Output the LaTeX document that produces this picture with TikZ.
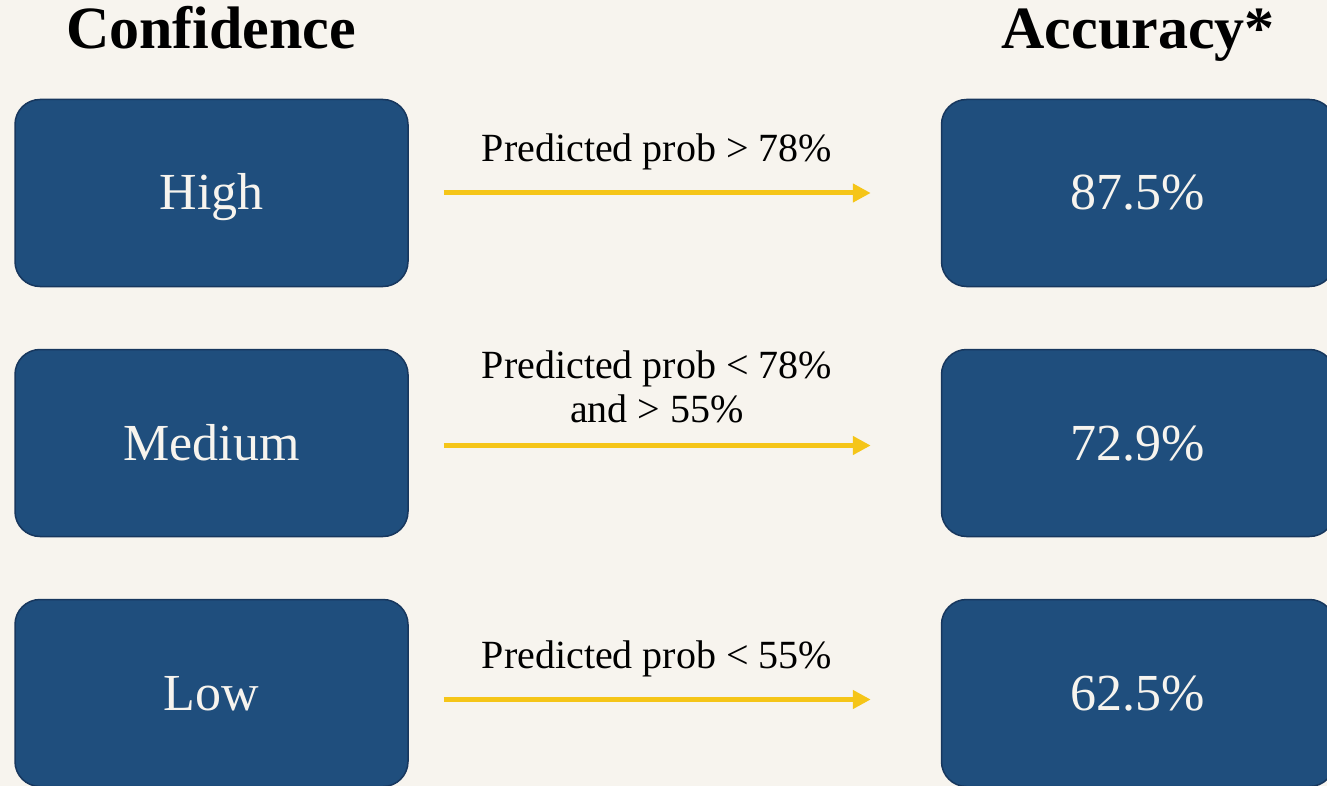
\documentclass[tikz,border=0pt]{standalone}
\usepackage{fontspec}
\setmainfont{Liberation Serif}
\usetikzlibrary{positioning, arrows.meta}

\definecolor{paper}{HTML}{F7F4EE}
\definecolor{boxblue}{HTML}{1F4E7D}
\definecolor{boxedge}{HTML}{17375E}
\definecolor{gold}{HTML}{F5C518}

\begin{document}
\begin{tikzpicture}[x=1pt, y=-1pt,
    level/.style={rectangle, rounded corners=25pt, draw=boxedge, line width=1.5pt, fill=boxblue, text=paper,
      minimum width=393pt, minimum height=187pt, text height=34pt, text depth=0pt,
      font=\fontsize{52}{60}\selectfont},
    title/.style={anchor=base, font=\fontsize{60}{62}\selectfont\bfseries},
    rule/.style={anchor=base, align=center, font=\fontsize{40}{44}\selectfont},
    link/.style={gold, line width=5pt, -{Triangle[length=18pt, width=18pt]}, shorten <=35pt, shorten >=70pt}]
    \clip (0,0) rectangle (1327,786);
    \fill[paper] (0,0) rectangle (1327,786);

    \node[title] (conf) at (211,49) {Confidence};
    \node[title] (acc) at (1138,49) {Accuracy*};

    \node[level] (high) at (211.5,193) {High};
    \node[level, below = 61.5pt of high] (medium) {Medium};
    \node[level, below = 61.5pt of medium] (low) {Low};

    \node[level, right = 532pt of high] (acchigh) {87.5\%};
    \node[level, right = 532pt of medium] (accmedium) {72.9\%};
    \node[level, right = 532pt of low] (acclow) {62.5\%};

    \node[rule] (rulehigh) at (657,162) {Predicted prob > 78\%};
    \node[rule] (rulemedium) at (657,422) {Predicted prob < 78\%\\and > 55\%};
    \node[rule] (rulelow) at (657,668) {Predicted prob < 55\%};

    \draw[link] (high.east) -- (acchigh.west);
    \draw[link] ([yshift=-2.5pt]medium.east) -- ([yshift=-2.5pt]accmedium.west);
    \draw[link] ([yshift=-6.5pt]low.east) -- ([yshift=-6.5pt]acclow.west);
\end{tikzpicture}
\end{document}
